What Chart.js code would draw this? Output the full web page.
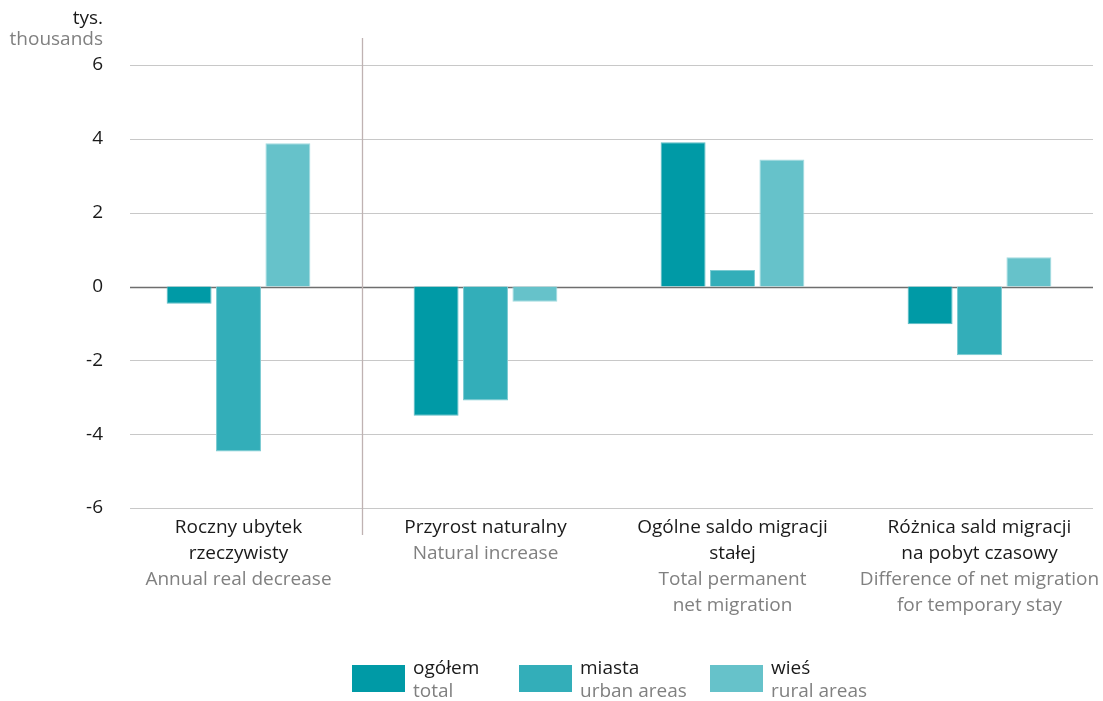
<!DOCTYPE html>
<html>
<head>
<meta charset="utf-8">
<script src="https://cdn.jsdelivr.net/npm/chart.js@4.4.0/dist/chart.umd.min.js"></script>
<style>
    html, body { margin: 0; padding: 0; background: #fff; }
    #wrap { width: 1103px; height: 701px; }
</style>
</head>
<body>
<div id="wrap"><canvas id="chart"></canvas></div>
<script>
// Data (thousands)
const categoriesPl = [
    ['Roczny ubytek', 'rzeczywisty'],
    ['Przyrost naturalny'],
    ['Ogólne saldo migracji', 'stałej'],
    ['Różnica sald migracji', 'na pobyt czasowy'],
];
const categoriesEn = [
    ['Annual real decrease'],
    ['Natural increase'],
    ['Total permanent', 'net migration'],
    ['Difference of net migration', 'for temporary stay'],
];
const seriesPl = ['ogółem', 'miasta', 'wieś'];
const seriesEn = ['total', 'urban areas', 'rural areas'];
const totalValues = [-0.47, -3.5, 3.91, -1.02];
const urbanValues = [-4.47, -3.09, 0.45, -1.86];
const ruralValues = [3.88, -0.41, 3.44, 0.79];
const yTicks = [-6, -4, -2, 0, 2, 4, 6];

const colors = ['#009aa6', '#33aeb9', '#66c2ca'];
const borders = ['#5dbcc4', '#7ccbd2', '#a3dce0'];
const FONT = '"Open Sans", "Noto Sans", sans-serif';

const overlay = {
    id: 'overlay',
    beforeDatasetsDraw(chart) {
        const { ctx, scales: { x, y } } = chart;
        ctx.save();
        // horizontal grid
        yTicks.forEach(v => {
            const py = Math.round(y.getPixelForValue(v)) + 0.5;
            ctx.strokeStyle = v === 0 ? '#6e6e6e' : '#c8c8c8';
            ctx.lineWidth = v === 0 ? 1.4 : 1.2;
            ctx.beginPath();
            ctx.moveTo(130, py);
            ctx.lineTo(1093, py);
            ctx.stroke();
        });
        // separator between first and second group
        const sx = Math.round((x.getPixelForValue(0) + x.getPixelForValue(1)) / 2) + 0.5;
        ctx.strokeStyle = '#bfb2b2';
        ctx.lineWidth = 1.3;
        ctx.beginPath();
        ctx.moveTo(sx, 38);
        ctx.lineTo(sx, 535);
        ctx.stroke();
        ctx.restore();
    },
    afterDraw(chart) {
        const { ctx, scales: { x, y } } = chart;
        ctx.save();
        ctx.textBaseline = 'middle';

        // y tick labels + unit
        ctx.font = '19px ' + FONT;
        ctx.textAlign = 'right';
        ctx.fillStyle = '#1a1a1a';
        yTicks.forEach(v => ctx.fillText(String(v), 103, y.getPixelForValue(v)));
        ctx.fillText('tys.', 103, 19);
        ctx.fillStyle = '#808080';
        ctx.fillText('thousands', 103, 40);

        // category labels
        ctx.textAlign = 'center';
        categoriesPl.forEach((pl, i) => {
            const cx = x.getPixelForValue(i);
            let ly = 528;
            ctx.fillStyle = '#1a1a1a';
            pl.forEach(line => { ctx.fillText(line, cx, ly); ly += 25.7; });
            ctx.fillStyle = '#808080';
            categoriesEn[i].forEach(line => { ctx.fillText(line, cx, ly); ly += 25.7; });
        });

        // legend
        const lx = [352, 519, 710];
        ctx.textAlign = 'left';
        seriesPl.forEach((name, i) => {
            ctx.fillStyle = colors[i];
            ctx.fillRect(lx[i], 665, 53, 27);
            ctx.fillStyle = '#1a1a1a';
            ctx.fillText(name, lx[i] + 61, 669);
            ctx.fillStyle = '#808080';
            ctx.fillText(seriesEn[i], lx[i] + 61, 692);
        });
        ctx.restore();
    }
};

new Chart(document.getElementById('chart'), {
    type: 'bar',
    data: {
        labels: categoriesPl.map(c => c.join(' ')),
        datasets: [totalValues, urbanValues, ruralValues].map((d, i) => ({
            label: seriesPl[i],
            data: d,
            backgroundColor: colors[i],
            borderColor: borders[i],
            borderWidth: 1,
            borderSkipped: 'start',
            categoryPercentage: 0.6,
            barPercentage: 0.91,
        }))
    },
    options: {
        responsive: true,
        maintainAspectRatio: false,
        animation: false,
        layout: { padding: { top: 65, bottom: 185, left: 0, right: 0 } },
        plugins: { legend: { display: false }, tooltip: { enabled: false } },
        scales: {
            x: {
                grid: { display: false },
                border: { display: false },
                ticks: { display: false },
            },
            y: {
                min: -6,
                max: 6,
                grid: { display: false },
                border: { display: false },
                ticks: { display: false, stepSize: 2 },
                afterFit: s => { s.width = 115; },
            }
        }
    },
    plugins: [overlay]
});
</script>
</body>
</html>
